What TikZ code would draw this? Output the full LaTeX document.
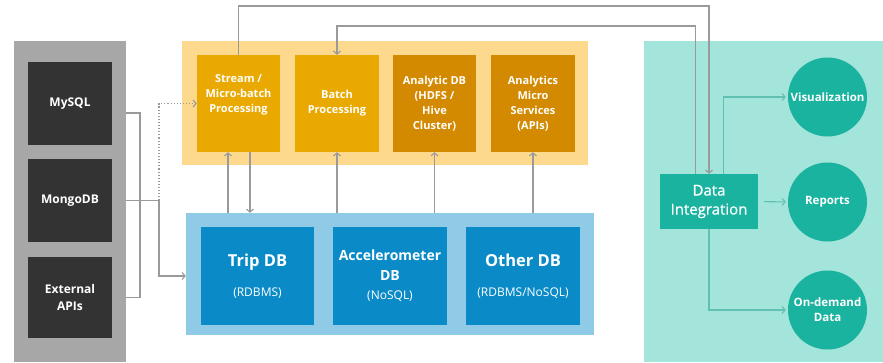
\documentclass[tikz,border=0pt]{standalone}
\usepackage{fontspec}
\setmainfont{Open Sans}
\newfontfamily\semib[FakeBold=0.6]{Open Sans}
\usetikzlibrary{arrows.meta,positioning,calc}

\definecolor{srcpanel}{HTML}{A7A7A7}
\definecolor{srcfill}{HTML}{333333}
\definecolor{procpanel}{HTML}{FCD98C}
\definecolor{procfill}{HTML}{E9A900}
\definecolor{anafill}{HTML}{D48A00}
\definecolor{dbpanel}{HTML}{8FCBE6}
\definecolor{dbfill}{HTML}{0A8BC8}
\definecolor{outpanel}{HTML}{A3E4DB}
\definecolor{outfill}{HTML}{1AB3A0}
\definecolor{linegray}{HTML}{9A9A9A}
\definecolor{lineteal}{HTML}{62C0B2}

\tikzset{
  panel/.style={inner sep=0pt, draw=none},
  srcbox/.style={fill=srcfill, text=white, inner sep=0pt, align=center,
    minimum width=84pt, font=\bfseries\fontsize{12}{17}\selectfont},
  procbox/.style={fill=procfill, text=white, inner sep=0pt, align=center,
    minimum width=83pt, minimum height=97pt, font=\bfseries\fontsize{11}{15}\selectfont},
  dbbox/.style={fill=dbfill, text=white, inner sep=0pt, align=center,
    minimum width=114pt, minimum height=98pt},
  outcircle/.style={circle, fill=outfill, text=white, inner sep=0pt, align=center,
    minimum size=79pt, font=\bfseries\fontsize{11.5}{15}\selectfont},
  link/.style={draw=linegray, line width=1.1pt},
  tlink/.style={draw=lineteal, line width=1.1pt},
  >={Straight Barb[length=3pt,width=7pt]}
}
\newcommand{\dbbig}{\bfseries\fontsize{16.5}{20}\selectfont}
\newcommand{\dbmid}{\bfseries\fontsize{14}{20}\selectfont}
\newcommand{\dbsub}{\mdseries\fontsize{12}{14}\selectfont}

\begin{document}
\begin{tikzpicture}[x=1pt,y=-1pt]
\useasboundingbox (0,0) rectangle (883,362);
% panels
\node[panel, fill=srcpanel, minimum width=112pt, minimum height=321pt] (srcp) at (70,201.5) {};
\node[panel, fill=procpanel, minimum width=406pt, minimum height=124pt] (procp) at (385,103) {};
\node[panel, fill=dbpanel, minimum width=408pt, minimum height=122pt] (dbp) at (390,274) {};
\node[panel, fill=outpanel, minimum width=239pt, minimum height=321pt] (outp) at (763.5,201.5) {};

% sources
\node[srcbox, minimum height=83pt] (mysql) at (70,103.5) {MySQL};
\node[srcbox, minimum height=83pt] (mongo) at (70,200.5) {MongoDB};
\node[srcbox, minimum height=81pt] (ext) at (70,297.5) {External\\APIs};

% processing
\node[procbox] (stream) at (238.5,103.5) {Stream /\\Micro-batch\\Processing\\[4pt]};
\node[procbox, minimum width=84pt] (batch) at (337,103.5) {Batch\\Processing};
\node[procbox, fill=anafill] (adb) at (434.5,103.5) {Analytic DB\\(HDFS /\\Hive\\Cluster)};
\node[procbox, fill=anafill, minimum width=84pt] (ams) at (533,103.5) {Analytics\\Micro\\Services\\(APIs)};

% databases
\node[dbbox, minimum width=113pt, font=\fontsize{16.5}{20}\selectfont] (trip) at (257.5,276)
  {\dbbig Trip DB\\[10pt]\dbsub (RDBMS)};
\node[dbbox, font=\fontsize{14}{20}\selectfont] (accel) at (390,276)
  {\dbmid Accelerometer\\\dbmid DB\\[-1pt]\dbsub (NoSQL)};
\node[dbbox, font=\fontsize{16.5}{20}\selectfont] (other) at (523,276)
  {\dbbig Other DB\\[10pt]\dbsub (RDBMS/NoSQL)};

% output
\node[fill=outfill, text=white, inner sep=0pt, align=center, minimum width=98pt, minimum height=55pt,
  font=\semib\fontsize{15}{19}\selectfont] (di) at (709,201.5) {Data\\Integration};
\node[outcircle] (vis) at (827.5,97) {Visualization};
\node[outcircle] (rep) at (827.5,202) {Reports};
\node[outcircle] (ond) at (827.5,310) {On-demand\\Data};

% source links
\coordinate (brx) at (140,0);
\coordinate (splitx) at (159,0);
\draw[link] (srcp.east |- 0,113) -| (brx |- ext) -- (srcp.east |- ext);
\draw[link,->] (srcp.east |- mongo) -| (splitx |- 0,276) -- (dbp.west |- 0,276);
\draw[link,dotted,->] (splitx |- mongo) |- (stream.west);

% top loop
\coordinate (topA) at (0,6);
\coordinate (topB) at (0,26);
\draw[link,->] (stream.north) |- (topA -| di.north) -- (di.north);
\draw[link,->] ([xshift=-13.5pt]di.north) |- (topB -| batch.north) -- (batch.north);

% db <-> processing
\draw[link,->] ([xshift=-10.5pt]stream.south |- dbp.north) -- ([xshift=-10.5pt]stream.south);
\draw[link,->] ([xshift=11.5pt]stream.south) -- ([xshift=11.5pt]stream.south |- dbp.north);
\foreach \n in {batch,adb,ams}
  \draw[link,->] (\n.south |- dbp.north) -- (\n.south);

% integration outputs
\draw[tlink,->,shorten <=6pt,shorten >=2pt] (di.east) -- (rep.west);
\draw[tlink,->,shorten >=2pt] ([xshift=14.5pt]di.north) |- (vis.west);
\draw[tlink,->,shorten >=2pt] (di.south) |- (ond.west);
\end{tikzpicture}
\end{document}
